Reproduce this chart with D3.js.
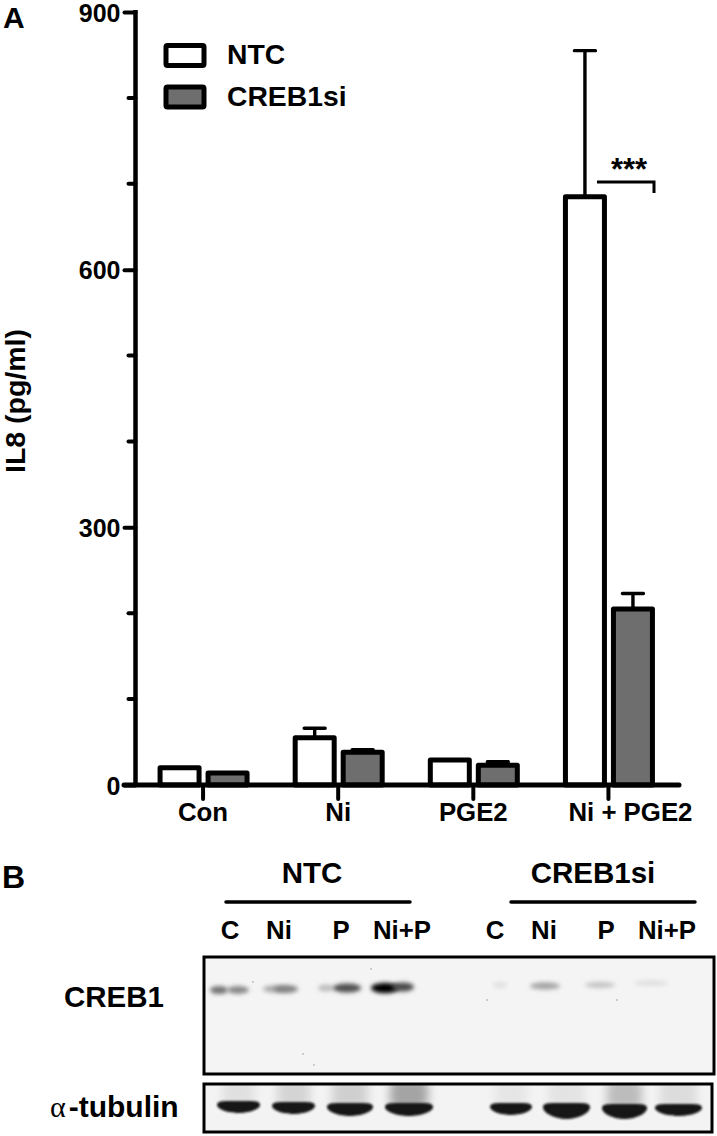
<!DOCTYPE html>
<html><head><meta charset="utf-8">
<script src="https://cdn.jsdelivr.net/npm/d3@7"></script>
<style>html,body{margin:0;padding:0;background:#fff}svg{display:block}
text{font-family:"Liberation Sans",Arial,sans-serif;font-weight:bold;fill:#000}</style></head>
<body><svg id="c" width="717" height="1136"></svg>
<script>
const categories = ["Con","Ni","PGE2","Ni + PGE2"];
const seriesNames = ["NTC","CREB1si"];
const ntcMeans = [20,55,29,685];
const ntcErrors = [0,11,0,170];
const siMeans = [14,38,23,205];
const siErrors = [0,3,4,18];
const yMajorTicks = [0,300,600,900];
const yMinorTicks = [100,200,400,500,700,800];
const laneLabels = ["C","Ni","P","Ni+P"];
const lanes = ["n1","n2","n3","n4","s1","s2","s3","s4"];
const crebLobes = ["n1a","n1b","n2a","n2b","n3a","n3b","n4a","n4b","s1a","s2a","s3a","s4a"];
const crebLobeSignal = [0.5,0.42,0.28,0.45,0.2,0.66,1,0.68,0.05,0.3,0.16,0.05];
const tubulinSmear = [0.07,0.12,0.14,0.32,0.05,0.06,0.22,0.09];
const specks = ["a","b","c","d","e","f"];

const svg = d3.select("#c");
const defs = svg.append("defs");
[["b1",2],["b2",1.1],["b6",5],["b9",8],["b0",0.6]].forEach(([id,s])=>defs.append("filter").attr("id",id)
  .attr("x","-100%").attr("y","-200%").attr("width","300%").attr("height","500%")
  .append("feGaussianBlur").attr("stdDeviation",s));

const ink="#000", grey="#6e6e6e";
const y = d3.scaleLinear().domain([0,900]).range([785,12]);
const x0 = d3.scaleBand().domain(categories).range([135.5,676]);
const x1 = d3.scaleBand().domain(seriesNames).range([-47.5,48.5]);
const barW = 39;
const g = svg.append("g");

// bars
const rows = categories.flatMap((c,i)=>[
  {c,s:"NTC",m:ntcMeans[i],e:ntcErrors[i]},
  {c,s:"CREB1si",m:siMeans[i],e:siErrors[i]}]);
const cx = d => x0(d.c)+x0.bandwidth()/2+x1(d.s)+x1.bandwidth()/2;
g.selectAll(".err").data(rows.filter(d=>d.e>0)).join("path").attr("fill","none").attr("stroke",ink).attr("stroke-width",3.4)
  .attr("stroke-linecap","round")
  .attr("d",d=>`M${cx(d)},${y(d.m)}V${y(d.m+d.e)}M${cx(d)-10.5},${y(d.m+d.e)}h21`);
g.selectAll(".bar").data(rows).join("rect")
  .attr("x",d=>cx(d)-barW/2).attr("width",barW)
  .attr("y",d=>y(d.m)).attr("height",d=>y(0)-y(d.m))
  .attr("fill",d=>d.s==="NTC"?"#fff":grey).attr("stroke",ink).attr("stroke-width",5).attr("stroke-linejoin","round");

// axes
const yAxis = d3.axisLeft(y).tickValues(yMajorTicks).tickSize(11).tickPadding(4);
const ya = g.append("g").attr("transform","translate(135.5,0)").call(yAxis);
ya.attr("font-family",null);
ya.select(".domain").attr("stroke-width",4.5).attr("d",`M0,${y(900)-2}V${y(0)}`);
ya.selectAll(".tick line").attr("stroke-width",4).attr("stroke-linecap","round");
ya.selectAll(".tick text").attr("font-size",25).attr("dy","0.36em");
ya.selectAll(".minor").data(yMinorTicks).join("line").attr("class","minor")
  .attr("y1",d=>y(d)).attr("y2",d=>y(d)).attr("x1",-7).attr("x2",0).attr("stroke",ink).attr("stroke-width",4).attr("stroke-linecap","round");

g.append("line").attr("x1",124).attr("x2",679).attr("y1",y(0)).attr("y2",y(0)).attr("stroke",ink).attr("stroke-width",5).attr("stroke-linecap","round");
g.append("g").selectAll("line").data(categories).join("line")
  .attr("x1",d=>x0(d)+x0.bandwidth()/2).attr("x2",d=>x0(d)+x0.bandwidth()/2).attr("y1",y(0)).attr("y2",y(0)+14)
  .attr("stroke",ink).attr("stroke-width",4).attr("stroke-linecap","round");
const catShift = [0,0,0,22];
g.append("g").selectAll("text").data(categories).join("text")
  .attr("x",(d,i)=>x0(d)+x0.bandwidth()/2+catShift[i]).attr("y",821).attr("text-anchor","middle").attr("font-size",25.8).text(d=>d);

// y title
svg.append("text").attr("transform","translate(25,401) rotate(-90)").attr("text-anchor","middle").attr("font-size",27)
  .attr("textLength",144).attr("lengthAdjust","spacingAndGlyphs").text("IL8 (pg/ml)");

// panel letters
svg.append("text").attr("x",3).attr("y",28).attr("font-size",30).text("A");
svg.append("text").attr("x",2).attr("y",888).attr("font-size",32).text("B");

// legend
seriesNames.forEach((s,i)=>{
  const yy=[45.5,87][i];
  svg.append("rect").attr("x",166).attr("y",yy).attr("width",38).attr("height",20).attr("rx",1.5)
    .attr("fill",i?grey:"#fff").attr("stroke",ink).attr("stroke-width",5);
  svg.append("text").attr("x",227).attr("y",yy+18.5).attr("font-size",28.3).text(s);
});

// significance
svg.append("path").attr("fill","none").attr("stroke",ink).attr("stroke-width",3).attr("d","M597,182H654V193");
svg.append("text").attr("x",629).attr("y",180).attr("text-anchor","middle").attr("font-size",31).text("***");

// panel B
const frames = [{t:957,b:1074,l:204,r:714,bg:"#f4f4f4"},{t:1084,b:1132,l:204,r:712,bg:"#f3f3f3"}];
const lobeX = d3.scaleOrdinal().domain(crebLobes).range([219,238,274,286,326,347,385,403,500,545,600,651]);
const lobeW = d3.scaleOrdinal().domain(crebLobes).range([18,22,22,24,16,28,28,22,14,30,30,34]);
const lobeY = d3.scaleOrdinal().domain(crebLobes).range([990,990,989,989,988,988,988,987,985,986,985,983]);
const tubX = d3.scaleOrdinal().domain(lanes).range([238.5,293.5,350,409,511,566.5,624.5,678.5]);
const tubW = d3.scaleOrdinal().domain(lanes).range([43,43,46,48,42,47,45,47]);
const tubY = d3.scaleOrdinal().domain(lanes).range([1105,1106,1107,1107,1107,1107,1108,1108]);
const tubH = d3.scaleOrdinal().domain(lanes).range([8,8,9,9,8,12,11,8]);
const labX = d3.scaleOrdinal().domain(lanes).range([230,279,341,402,495,544,606,667]);
const speckX = d3.scaleOrdinal().domain(specks).range([253,371,487,617,303,314]);
const speckY = d3.scaleOrdinal().domain(specks).range([982,969,1000,1000,1054,1065]);

frames.forEach(f=>svg.append("rect").attr("x",f.l).attr("y",f.t).attr("width",f.r-f.l).attr("height",f.b-f.t).attr("fill",f.bg));
defs.append("clipPath").attr("id","cl").append("rect").attr("x",frames[1].l).attr("y",frames[1].t).attr("width",frames[1].r-frames[1].l).attr("height",frames[1].b-frames[1].t);

const blot = svg.append("g");
// CREB1 bands
const bc = d3.scaleLinear().domain([0,1]).range(["#ececec","#000"]);
blot.selectAll(".cb").data(crebLobes).join("ellipse").attr("cx",d=>lobeX(d)).attr("cy",d=>lobeY(d))
  .attr("rx",d=>lobeW(d)/2).attr("ry",(d,i)=>3+crebLobeSignal[i]*2.2).attr("fill",(d,i)=>bc(crebLobeSignal[i])).attr("filter","url(#b1)");
blot.selectAll(".sp").data(specks).join("circle").attr("cx",d=>speckX(d)).attr("cy",d=>speckY(d)).attr("r",0.8).attr("fill","#999").attr("filter","url(#b0)");
// tubulin
const tb = blot.append("g").attr("clip-path","url(#cl)");
tb.selectAll(".sm").data(lanes).join("rect").attr("x",d=>tubX(d)-tubW(d)/2+5).attr("width",d=>tubW(d)-10)
  .attr("y",1078).attr("height",d=>tubY(d)-1078+3).attr("rx",9).attr("fill","#000")
  .attr("opacity",(d,i)=>tubulinSmear[i]).attr("filter","url(#b6)");
tb.selectAll(".tb").data(lanes).join("path").attr("fill","#141414").attr("filter","url(#b2)")
  .attr("d",d=>{const x=tubX(d),w=tubW(d)/2,c=tubY(d),h=tubH(d);
    return `M${x-w},${c}C${x-w},${c-5} ${x-w+8},${c-4} ${x},${c-4}S${x+w},${c-5} ${x+w},${c}C${x+w},${c+h*0.55} ${x+w*0.45},${c+h} ${x},${c+h}S${x-w},${c+h*0.55} ${x-w},${c}Z`;});

// frames
frames.forEach(f=>svg.append("rect").attr("x",f.l).attr("y",f.t).attr("width",f.r-f.l).attr("height",f.b-f.t)
  .attr("fill","none").attr("stroke",ink).attr("stroke-width",3));

// lane labels
svg.append("g").selectAll("text").data(lanes).join("text").attr("x",d=>labX(d)).attr("y",939).attr("text-anchor","middle").attr("font-size",25.8)
  .text((d,i)=>laneLabels[i%4]);
// group headings
[[seriesNames[0],312,226,410],[seriesNames[1],593,511,695]].forEach(([t,c,a,b])=>{
  svg.append("text").attr("x",c).attr("y",883).attr("text-anchor","middle").attr("font-size",29.5).text(t);
  svg.append("line").attr("x1",a).attr("x2",b).attr("y1",902).attr("y2",902).attr("stroke",ink).attr("stroke-width",3.5).attr("stroke-linecap","round");
});
svg.append("text").attr("x",64).attr("y",1007).attr("font-size",29.5).text("CREB1");
const at = svg.append("text").attr("x",50).attr("y",1117).attr("font-size",30);
at.append("tspan").attr("font-family","Liberation Serif").attr("font-weight","normal").text("α");
at.append("tspan").attr("dx",3).attr("font-size",30).text("-tubulin");
</script></body></html>
